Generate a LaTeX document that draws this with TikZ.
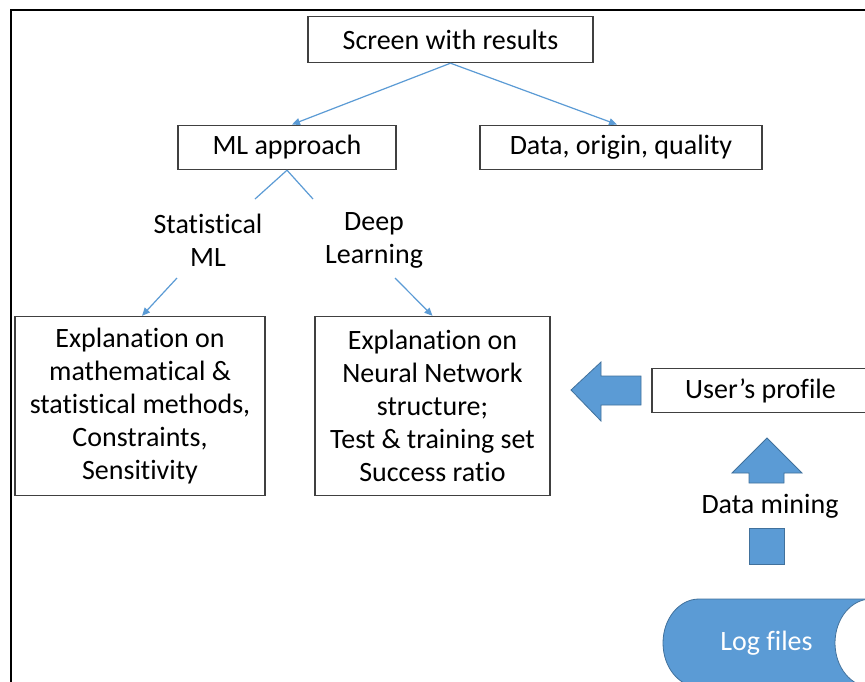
\documentclass[tikz,border=0pt]{standalone}
\usepackage{fontspec}
\setmainfont{Carlito}[Ligatures={NoCommon}]
\usetikzlibrary{arrows.meta}
\definecolor{conn}{HTML}{5B9BD5}
\definecolor{blockfill}{HTML}{5B9BD5}
\definecolor{blockline}{HTML}{41719C}
\tikzset{
  box/.style={draw=black!75, line width=1.4pt, fill=white, inner sep=0pt, align=center,
    font=\fontsize{28}{33}\selectfont},
  lbl/.style={inner sep=0pt, align=center, font=\fontsize{28}{33.5}\selectfont},
  link/.style={draw=conn, line width=1.2pt},
  linkarrow/.style={link, -{Triangle[length=8pt,width=7pt]}},
  blockarrow/.style={fill=blockfill, draw=blockline, line width=0.8pt},
}
\begin{document}
\begin{tikzpicture}[x=1pt, y=-1pt]
\useasboundingbox (0,0) rectangle (865,681);
\clip (0,0) rectangle (865,681);
\fill[white] (0,0) rectangle (865,681);
% frame
\draw[line width=2.8pt, black] (11,10) rectangle (880,700);

\node[box, minimum width=285pt, minimum height=46pt] (screen) at (450.5,39.5) {Screen with results};
\node[box, minimum width=218pt, minimum height=44pt] (ml) at (287,147.5) {ML approach};
\node[box, minimum width=282pt, minimum height=44pt] (data) at (621,147.5) {Data, origin, quality};
\node[lbl] (stat) at (208,240.5) {Statistical\\ML};
\node[lbl] (deep) at (374,240.5) {Deep\\Learning};
\node[box, minimum width=250pt, minimum height=179pt] (left) at (140,406)
  {Explanation on\\mathematical \&\\statistical methods,\\Constraints,\\Sensitivity};
\node[box, minimum width=235pt, minimum height=179pt] (mid) at (432.5,406)
  {Explanation on\\Neural Network\\structure;\\Test \& training set\\Success ratio};
\node[box, minimum width=217pt, minimum height=44pt] (user) at (760.5,390.5) {User’s profile};
\node[lbl] (mining) at (770,506) {Data mining};

% connectors
\coordinate (mlL) at (255,199);
\coordinate (mlR) at (313,199);
\coordinate (statS) at (177,278);
\coordinate (deepS) at (395,278);
\draw[linkarrow] (screen.south) -- (292,124.5) coordinate (mlN);
\draw[linkarrow] (screen.south) -- (617,124.5) coordinate (dataN);
\draw[link] (ml.south) -- (mlL);
\draw[link] (ml.south) -- (mlR);
\draw[linkarrow] (statS) -- (left.north -| 142,0);
\draw[linkarrow] (deepS) -- (mid.north);

% block arrows
\draw[blockarrow] (571,390) -- (601,362) -- (601,376) -- (641,376) -- (641,405) -- (601,405) -- (601,421) -- cycle;
\draw[blockarrow] (767,438) -- (802,473) -- (784,473) -- (784,483) -- (749,483) -- (749,473) -- (732,473) -- cycle;
\draw[blockarrow] (749,528) rectangle (784,564);

% log files cylinder
\draw[blockarrow] (871,599) -- (699,599) arc[start angle=90, end angle=270, x radius=36pt, y radius=44pt] -- (871,687) -- cycle;
\draw[fill=white, draw=blockline, line width=0.8pt] (871,643) ellipse[x radius=36pt, y radius=44pt];
\node[lbl, text=white] (log) at (766.5,643.5) {Log files};
\end{tikzpicture}
\end{document}
